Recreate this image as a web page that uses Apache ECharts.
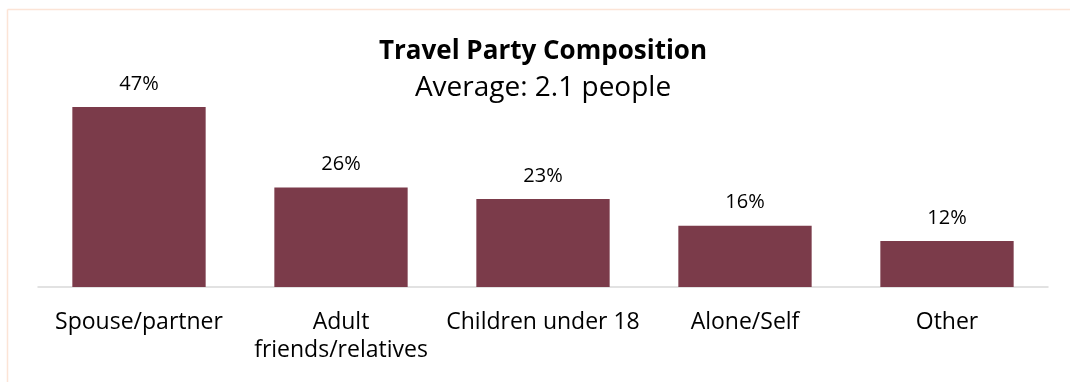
<!DOCTYPE html>
<html><head><meta charset="utf-8">
<script src="https://cdn.jsdelivr.net/npm/echarts@6/dist/echarts.min.js"></script>
<style>html,body{margin:0;padding:0;background:#fff}#c{width:1070px;height:382px}</style>
</head><body><div id="c"></div>
<script>
const categories = ['Spouse/partner', 'Adult\nfriends/relatives', 'Children under 18', 'Alone/Self', 'Other'];
const values = [47, 26, 23, 16, 12];
const titleText = 'Travel Party Composition';
const subtitleText = 'Average: 2.1 people';

const FONT = '"Open Sans", sans-serif';
const chart = echarts.init(document.getElementById('c'));
chart.setOption({
  animation: false,
  backgroundColor: '#fff',
  graphic: [
    { type: 'line', shape: { x1: 7.5, y1: 9.5, x2: 1070, y2: 9.5 }, style: { stroke: '#FCE4D6', lineWidth: 1.5 } },
    { type: 'line', shape: { x1: 7.5, y1: 9.5, x2: 7.5, y2: 382 }, style: { stroke: '#FCE4D6', lineWidth: 1.5 } }
  ],
  title: {
    text: titleText,
    subtext: subtitleText,
    left: 538, top: 31, textAlign: 'center',
    itemGap: 3,
    textStyle: { fontFamily: FONT, fontWeight: 'bold', fontSize: 26, color: '#000', lineHeight: 32 },
    subtextStyle: { fontFamily: FONT, fontSize: 28, color: '#000', lineHeight: 34 }
  },
  grid: { left: 38, right: 22, top: 95.5, bottom: 95, containLabel: false },
  xAxis: {
    type: 'category', data: categories,
    axisLine: { lineStyle: { color: '#D9D9D9', width: 1.5 } },
    axisTick: { show: false },
    axisLabel: { interval: 0, fontFamily: FONT, fontSize: 23, color: '#000', margin: 21, lineHeight: 28 }
  },
  yAxis: { type: 'value', min: 0, max: 50, show: false, splitLine: { show: false } },
  series: [{
    type: 'bar', data: values, barCategoryGap: '34%',
    itemStyle: { color: '#7B3B4A' },
    label: { show: true, position: 'top', distance: 13, formatter: '{c}%', fontFamily: FONT, fontSize: 20, color: '#000' }
  }]
});
</script></body></html>
